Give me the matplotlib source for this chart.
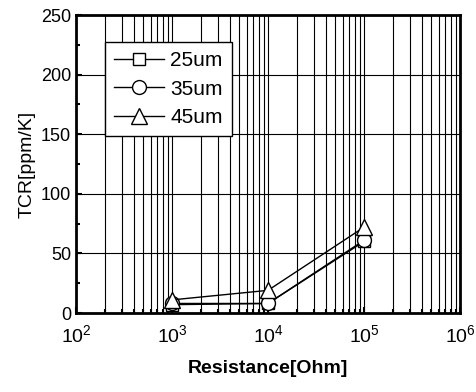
import numpy as np
import matplotlib.pyplot as plt

plt.rcParams['font.family'] = ['Liberation Sans', 'DejaVu Sans']

resistance = [1e3, 1e4, 1e5]
tcr_25um = [7, 8, 60]
tcr_35um = [8, 8, 61]
tcr_45um = [11, 19, 72]
labels = ['25um', '35um', '45um']


def main():
    fig = plt.figure(figsize=(4.77, 3.92), dpi=100)
    ax = fig.add_axes([76 / 477, 1 - 313 / 392, (460 - 76) / 477, (313 - 15) / 392])

    ax.plot(resistance, tcr_25um, 'k-', marker='s', mfc='white', mec='k', ms=9, lw=1, label=labels[0])
    ax.plot(resistance, tcr_35um, 'k-', marker='o', mfc='white', mec='k', ms=10, lw=1, label=labels[1])
    ax.plot(resistance, tcr_45um, 'k-', marker='^', mfc='white', mec='k', ms=11, lw=1, label=labels[2])

    ax.set_xscale('log')
    ax.set_xlim(1e2, 1e6)
    ax.set_ylim(0, 250)
    ax.set_yticks(np.arange(0, 251, 50))
    ax.set_yticks(np.arange(0, 251, 25), minor=True)

    ax.grid(True, which='major', color='k', lw=0.8)
    ax.grid(True, which='minor', axis='x', color='k', lw=0.8)

    ax.tick_params(direction='in', which='both', labelsize=13, width=1.5)
    ax.tick_params(axis='x', labelsize=14, pad=8)
    ax.tick_params(which='major', length=4)
    ax.tick_params(which='minor', length=3)
    for s in ax.spines.values():
        s.set_linewidth(2)

    ax.set_xlabel('Resistance[Ohm]', fontsize=14, fontweight='bold', labelpad=10)
    ax.set_ylabel('TCR[ppm/K]', fontsize=14)

    leg = ax.legend(loc='upper left', bbox_to_anchor=(0.075, 0.91), fontsize=15,
                    frameon=True, fancybox=False, edgecolor='k', framealpha=1,
                    handlelength=2.4, borderpad=0.45, labelspacing=0.45, handletextpad=0.3,
                    borderaxespad=0)
    leg.get_frame().set_linewidth(1)

    fig.savefig('out.png', dpi=100)


if __name__ == '__main__':
    main()
